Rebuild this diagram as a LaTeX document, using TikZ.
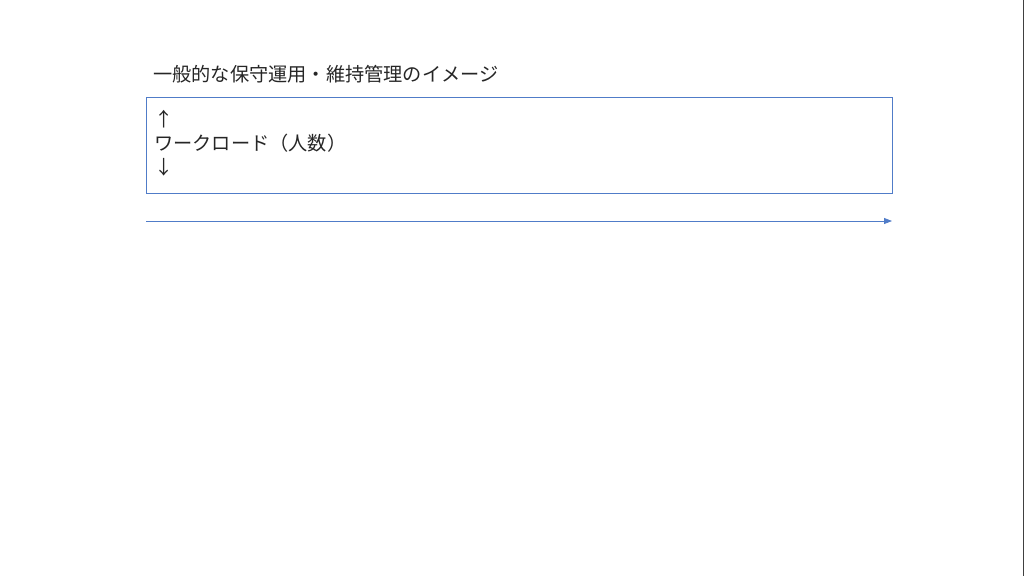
\documentclass[tikz,border=0pt]{standalone}
\usepackage{fontspec}
\setmainfont{Noto Sans CJK JP}
\usetikzlibrary{arrows.meta}
\definecolor{boxblue}{RGB}{80,124,200}
\definecolor{edgegray}{RGB}{64,64,64}
\definecolor{textgray}{RGB}{38,38,38}
\tikzset{
  jptext/.style={anchor=west, inner sep=0, text=textgray, font=\fontsize{19.2}{24}\selectfont},
  workframe/.style={draw=boxblue, line width=0.8pt, anchor=north west, inner sep=0}
}
\begin{document}
\begin{tikzpicture}[x=1pt,y=-1pt]
    \useasboundingbox (0,0) rectangle (1024,576);
    \fill [white] (0,0) rectangle (1024,576);
    \draw [edgegray, line width=1pt] (1023.5,0) -- (1023.5,576);
    % title
    \node [jptext] (title) at (153,74.5) {一般的な保守運用・維持管理のイメージ};
    % box with the workload label
    \node [workframe, minimum width=746, minimum height=96] (workbox) at (146,97) {};
    \node [jptext, align=left] (workload) at (154,143) {↑\\ワークロード（人数）\\↓};
    % time axis
    \coordinate (tstart) at (146,221);
    \coordinate (tend) at (892,221);
    \draw [boxblue, line width=0.8pt, -{Triangle[length=8pt,width=6pt]}] (tstart) -- (tend);
\end{tikzpicture}
\end{document}
